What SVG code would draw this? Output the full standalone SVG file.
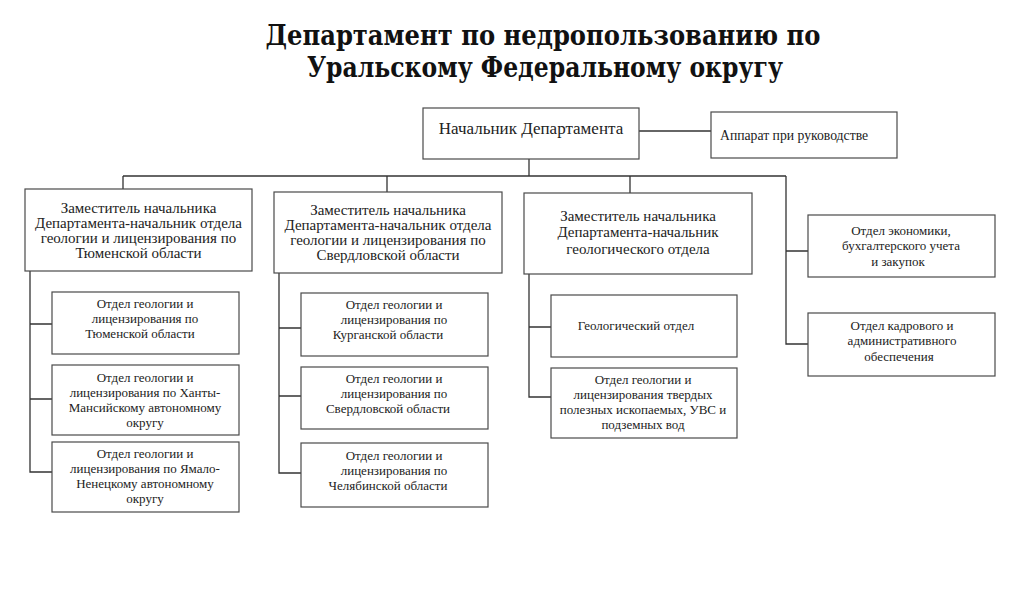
<svg xmlns="http://www.w3.org/2000/svg" width="1024" height="597" viewBox="0 0 1024 597">
<style>
.box{fill:#fff;stroke:#4a4a4a;stroke-width:1.2}
.ln{fill:none;stroke:#333;stroke-width:1.3}
.title{font-family:"DejaVu Serif","Liberation Serif",serif;font-weight:bold;font-size:27px;fill:#111;text-anchor:middle}
.t17{font-family:"Liberation Serif",serif;font-size:17px;fill:#222;text-anchor:middle}
.t15{font-family:"Liberation Serif",serif;font-size:15px;fill:#222;text-anchor:middle}
.t13{font-family:"Liberation Serif",serif;font-size:13px;fill:#222;text-anchor:middle}
</style>
<rect width="1024" height="597" fill="#fff"/>
<g id="title">
<text class="title" x="543" y="45" textLength="555" lengthAdjust="spacingAndGlyphs">Департамент по недропользованию по</text>
<text class="title" x="545" y="77" textLength="476" lengthAdjust="spacingAndGlyphs">Уральскому Федеральному округу</text>
</g>
<g id="connectors">
<path class="ln" d="M639 131H711"/>
<path class="ln" d="M529 159V176"/>
<path class="ln" d="M123 176H786"/>
<path class="ln" d="M123 176V189M387 176V192M630 176V193"/>
<path class="ln" d="M786 176V344H808M786 251H808"/>
<path class="ln" d="M30 271V472H52M30 324H52M30 399H52"/>
<path class="ln" d="M279 273V473H301M279 328H301M279 396H301"/>
<path class="ln" d="M529 274V397H551M529 327H551"/>
</g>
<g id="head">
<rect class="box" x="423" y="108" width="216" height="51"/>
<text class="t17" x="531" y="134">Начальник Департамента</text>
</g>
<g id="apparat">
<rect class="box" x="711" y="112" width="186" height="46"/>
<text class="t13" x="720" y="140" style="text-anchor:start;font-size:13.7px">Аппарат при руководстве</text>
</g>
<g id="dep1">
<rect class="box" x="25" y="189" width="227" height="82"/>
<text class="t15" x="138.5" y="213">Заместитель начальника</text>
<text class="t15" x="138.5" y="228">Департамента-начальник отдела</text>
<text class="t15" x="138.5" y="243">геологии и лицензирования по</text>
<text class="t15" x="138.5" y="258">Тюменской области</text>
</g>
<g id="dep2">
<rect class="box" x="274" y="192" width="228" height="81"/>
<text class="t15" x="388" y="215">Заместитель начальника</text>
<text class="t15" x="388" y="230">Департамента-начальник отдела</text>
<text class="t15" x="388" y="245">геологии и лицензирования по</text>
<text class="t15" x="388" y="260">Свердловской области</text>
</g>
<g id="dep3">
<rect class="box" x="524" y="193" width="228" height="81"/>
<text class="t15" x="638" y="221">Заместитель начальника</text>
<text class="t15" x="638" y="237">Департамента-начальник</text>
<text class="t15" x="638" y="254">геологического отдела</text>
</g>
<g id="econ">
<rect class="box" x="808" y="215" width="187" height="62"/>
<text class="t13" x="901" y="235">Отдел экономики,</text>
<text class="t13" x="901" y="250">бухгалтерского учета</text>
<text class="t13" x="898" y="266">и закупок</text>
</g>
<g id="kadr">
<rect class="box" x="808" y="313" width="187" height="63"/>
<text class="t13" x="902" y="330">Отдел кадрового и</text>
<text class="t13" x="902" y="345">административного</text>
<text class="t13" x="899" y="361">обеспечения</text>
</g>
<g id="tyumen">
<rect class="box" x="52" y="292" width="187" height="62"/>
<text class="t13" x="145" y="308">Отдел геологии и</text>
<text class="t13" x="145" y="323">лицензирования по</text>
<text class="t13" x="140" y="338">Тюменской области</text>
</g>
<g id="hmao">
<rect class="box" x="52" y="365" width="187" height="70"/>
<text class="t13" x="145" y="382">Отдел геологии и</text>
<text class="t13" x="145" y="397">лицензирования по Ханты-</text>
<text class="t13" x="145" y="412">Мансийскому автономному</text>
<text class="t13" x="145" y="427">округу</text>
</g>
<g id="yanao">
<rect class="box" x="52" y="442" width="187" height="70"/>
<text class="t13" x="145" y="458">Отдел геологии и</text>
<text class="t13" x="145" y="473">лицензирования по Ямало-</text>
<text class="t13" x="145" y="488">Ненецкому автономному</text>
<text class="t13" x="145" y="503">округу</text>
</g>
<g id="kurgan">
<rect class="box" x="301" y="293" width="187" height="63"/>
<text class="t13" x="394" y="309">Отдел геологии и</text>
<text class="t13" x="394" y="324">лицензирования по</text>
<text class="t13" x="388" y="339">Курганской области</text>
</g>
<g id="sverdl">
<rect class="box" x="301" y="367" width="187" height="62"/>
<text class="t13" x="394" y="383">Отдел геологии и</text>
<text class="t13" x="394" y="398">лицензирования по</text>
<text class="t13" x="388" y="413">Свердловской области</text>
</g>
<g id="chelyab">
<rect class="box" x="301" y="443" width="187" height="64"/>
<text class="t13" x="394" y="460">Отдел геологии и</text>
<text class="t13" x="394" y="475">лицензирования по</text>
<text class="t13" x="388" y="490">Челябинской области</text>
</g>
<g id="geol">
<rect class="box" x="551" y="295" width="186" height="62"/>
<text class="t13" x="636" y="330">Геологический отдел</text>
</g>
<g id="tpi">
<rect class="box" x="551" y="368" width="186" height="70"/>
<text class="t13" x="643" y="384">Отдел геологии и</text>
<text class="t13" x="643" y="399">лицензирования твердых</text>
<text class="t13" x="643" y="414">полезных ископаемых, УВС и</text>
<text class="t13" x="643" y="429">подземных вод</text>
</g>
</svg>
